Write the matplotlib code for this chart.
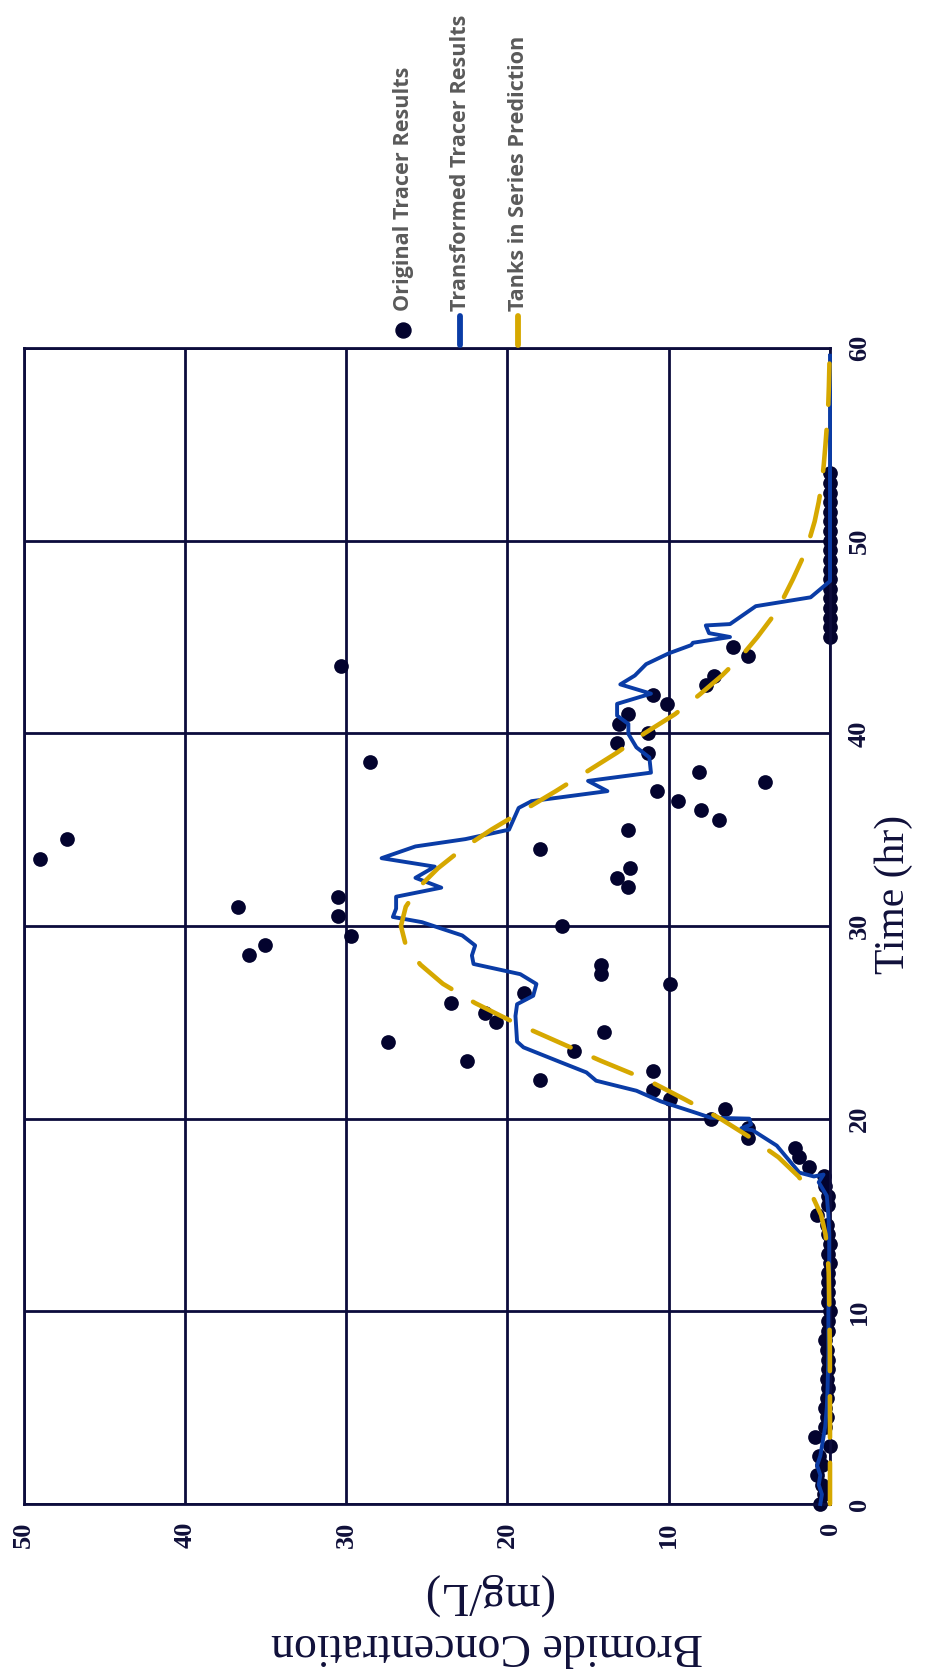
import matplotlib
matplotlib.use("Agg")
import matplotlib.pyplot as plt
from matplotlib.lines import Line2D

# ---------------- data ----------------
orig_time = [0, 0.5, 1, 1.5, 2, 2.5, 3, 3.5, 4, 4.5, 5, 5.5, 6, 6.5, 7, 7.5, 8, 8.5, 9, 9.5,
             10, 10.5, 11, 11.5, 12, 12.5, 13, 13.5, 14, 14.5, 15, 15.5, 16, 16.5, 17, 17.5,
             18, 18.5, 19, 19.5, 20, 20.5, 21, 21.5, 22, 22.5, 23, 23.5, 24, 24.5, 25, 25.5,
             26, 26.5, 27, 27.5, 28, 28.5, 29, 29.5, 30, 30.5, 31, 31.5, 32, 32.5, 33, 33.5,
             34, 34.5, 35, 35.5, 36, 36.5, 37, 37.5, 38, 38.5, 39, 39.5, 40, 40.5, 41, 41.5,
             42, 42.5, 43, 43.5, 44, 44.5, 45, 45.5, 46, 46.5, 47, 47.5, 48, 48.5, 49, 49.5,
             50, 50.5, 51, 51.5, 52, 52.5, 53, 53.5]
orig_conc = [0.6, 0.4, 0.5, 0.8, 0.5, 0.7, 0.0, 0.9, 0.3, 0.2, 0.3, 0.2, 0.1, 0.2, 0.1, 0.1,
             0.2, 0.3, 0.1, 0.1, 0.0, 0.1, 0.1, 0.1, 0.1, 0.0, 0.1, 0.0, 0.1, 0.2, 0.8, 0.1,
             0.1, 0.3, 0.4, 1.3, 1.9, 2.2, 5.1, 5.1, 7.4, 6.5, 9.9, 11.0, 18.0, 11.0, 22.5, 15.9,
             27.4, 14.0, 20.7, 21.4, 23.5, 19.0, 9.9, 14.2, 14.2, 36.0, 35.0, 29.7, 16.6, 30.5,
             36.7, 30.5, 12.5, 13.2, 12.4, 49.0, 18.0, 47.3, 12.5, 6.9, 8.0, 9.4, 10.7, 4.0,
             8.1, 28.5, 11.3, 13.2, 11.3, 13.1, 12.5, 10.1, 11.0, 7.7, 7.2, 30.3, 5.1, 6.0,
             0, 0, 0, 0, 0, 0, 0, 0, 0, 0, 0, 0, 0, 0, 0, 0, 0, 0]

trans_time = [0, 0.5, 1.0, 1.5, 2.0, 2.5, 3.0, 3.5, 4.0, 5.0, 6.0, 8.0, 10.0, 12.0, 14.0, 15.0,
              16.0, 16.7, 17.1, 17.0, 17.2, 18.6, 19.4, 19.5, 19.7, 20.0, 20.05, 20.3, 20.9,
              21.45, 21.97, 22.4, 22.93, 23.7, 24.0, 25.33, 25.94, 26.38, 26.99, 27.5, 28.03,
              28.47, 28.99, 29.51, 30.2, 30.47, 30.9, 31.52, 31.99, 32.5, 33.08, 33.52, 34.13,
              34.51, 35.0, 36.13, 36.48, 37.0, 37.53, 37.96, 38.75, 39.27, 39.97, 40.49, 40.92,
              41.53, 42.06, 42.54, 43.0, 43.59, 44.15, 44.58, 44.7, 45.0, 45.2, 45.6, 45.67,
              46.6, 47.06, 47.9, 59.6]
trans_conc = [0.6, 0.5, 0.7, 0.6, 0.8, 0.6, 0.5, 0.4, 0.3, 0.2, 0.15, 0.1, 0.1, 0.05, 0.05, 0.1,
              0.2, 0.7, 0.4, 1.0, 1.9, 3.3, 4.8, 5.5, 4.9, 5.0, 7.4, 8.3, 10.5,
              12.0, 14.5, 15.1, 16.7, 19.0, 19.4, 19.5, 19.4, 18.4, 18.2, 19.2, 22.1,
              22.2, 22.0, 22.8, 25.3, 27.1, 26.9, 26.9, 24.1, 25.7, 24.5, 27.8, 25.7,
              22.6, 19.9, 19.3, 18.5, 13.8, 15.0, 11.1, 11.2, 12.0, 12.5, 12.5, 13.2,
              13.2, 11.1, 13.0, 12.1, 11.4, 10.0, 8.6, 8.5, 6.2, 7.5, 7.7, 6.2,
              4.6, 1.2, 0.0, 0.0]

tis_time = [0, 4, 8, 10, 12, 13, 14, 15, 16, 17, 18, 19, 20, 21, 22, 23, 24, 25, 26, 27, 28,
            29, 30, 31, 32, 33, 34, 35, 36, 37, 38, 39, 40, 41, 42, 43, 44, 45, 46, 47, 48,
            49, 50, 51, 52, 53, 54, 55, 56, 57, 58, 59, 60]
tis_conc = [0, 0, 0.01, 0.04, 0.08, 0.15, 0.28, 0.55, 1.1, 1.95, 3.2, 4.9, 6.8, 9.0, 11.3,
            14.2, 16.9, 19.6, 22.0, 24.0, 25.4, 26.3, 26.6, 26.3, 25.5, 24.3, 22.8, 21.0,
            19.0, 17.0, 15.1, 13.2, 11.5, 9.6, 8.1, 6.7, 5.5, 4.5, 3.6, 2.9, 2.3, 1.75,
            1.3, 0.95, 0.7, 0.5, 0.38, 0.28, 0.19, 0.11, 0.07, 0.04, 0.02]

conc_ticks = [0, 10, 20, 30, 40, 50]
time_ticks = [0, 10, 20, 30, 40, 50, 60]
legend_labels = ["Original Tracer Results", "Transformed Tracer Results",
                 "Tanks in Series Prediction"]

# ---------------- style ----------------
DOT = "#03032e"
BLUE = "#0a3ca6"
GOLD = "#d6a800"
GRID = "#0c0c3c"
TXT = "#10103a"
SERIF = ["Liberation Serif", "DejaVu Serif"]

W, H = 940, 1679
fig = plt.figure(figsize=(W / 100, H / 100), dpi=100)
fig.patch.set_facecolor("white")

ax = fig.add_axes([23.5 / W, 1 - 1504 / H, (830 - 23.5) / W, (1504 - 348) / H])
ax.set_xlim(50, 0)
ax.set_ylim(0, 60)

ax.set_xticks(conc_ticks)
ax.set_yticks(time_ticks)
ax.grid(True, color=GRID, linewidth=2.0, zorder=0)
ax.set_axisbelow(True)
for s in ax.spines.values():
    s.set_color(GRID)
    s.set_linewidth(2.0)

ax.yaxis.tick_right()
ax.tick_params(axis="both", length=0, colors=TXT)
ax.tick_params(axis="x", pad=13)
ax.tick_params(axis="y", pad=13)
for lab in ax.get_xticklabels() + ax.get_yticklabels():
    lab.set_rotation(90)
    lab.set_fontfamily(SERIF)
    lab.set_fontweight("bold")
    lab.set_fontsize(19)
    lab.set_color(TXT)
for lab in ax.get_yticklabels():
    lab.set_verticalalignment("center")

ax.plot(tis_conc, tis_time, color=GOLD, linewidth=3.3, dashes=(9.0, 5.5),
        dash_capstyle="round", zorder=4, clip_on=False)
ax.plot(trans_conc, trans_time, color=BLUE, linewidth=2.8, zorder=3, clip_on=False)
ax.scatter(orig_conc, orig_time, s=112, color=DOT, zorder=2, clip_on=False, linewidths=0)

# axis titles (chart is rotated)
fig.text(894 / W, 1 - 894 / H, "Time (hr)", rotation=90, ha="center", va="center",
         fontfamily=SERIF, fontsize=30, color=TXT)
fig.text(487 / W, 1 - 1620 / H, "Bromide Concentration\n(mg/L)", rotation=180,
         ha="center", va="center", fontfamily=SERIF, fontsize=33, color=TXT,
         linespacing=1.25, multialignment="center")

# legend (rotated)
leg_x = [403, 460, 518]
for i, (x, lab) in enumerate(zip(leg_x, legend_labels)):
    fx = x / W
    if i == 0:
        fig.add_artist(Line2D([fx], [1 - 330 / H], marker="o", markersize=10.8,
                              color=DOT, linestyle="none", transform=fig.transFigure))
    else:
        col = BLUE if i == 1 else GOLD
        fig.add_artist(Line2D([fx, fx], [1 - 345 / H, 1 - 316 / H], color=col,
                              linewidth=4.2, solid_capstyle="round",
                              transform=fig.transFigure))
    fig.text(fx, 1 - 311 / H, lab, rotation=90, ha="center", va="bottom",
             fontfamily=["Open Sans", "DejaVu Sans"], fontweight="bold",
             fontsize=15.6, color="#5a5a5a")

fig.savefig("out.png", dpi=100, facecolor="white")
